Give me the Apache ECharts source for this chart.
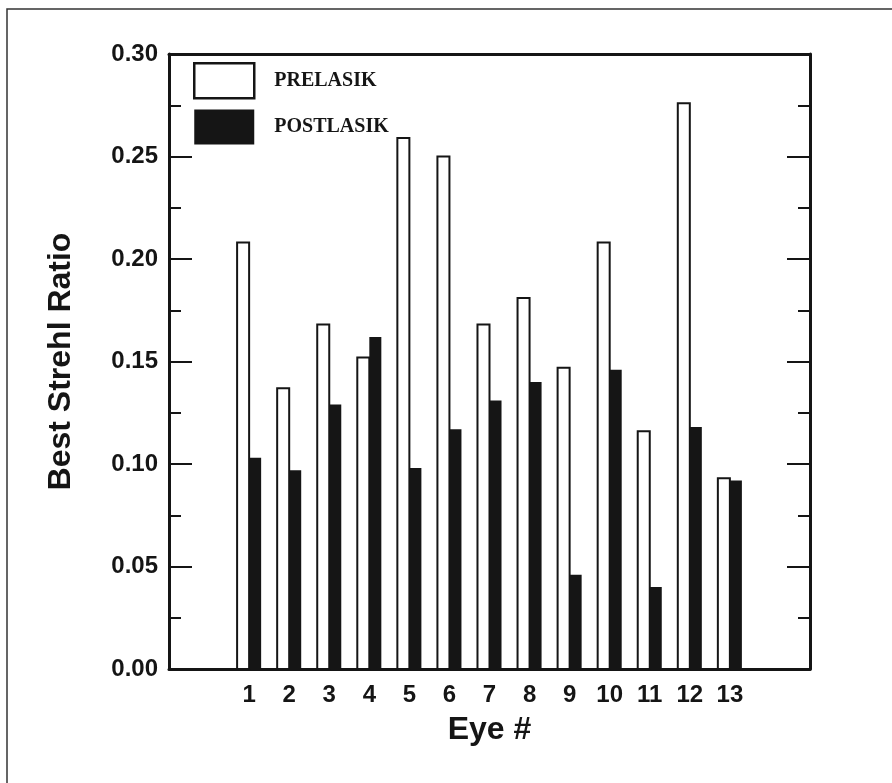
<!DOCTYPE html>
<html>
<head>
<meta charset="utf-8">
<script src="https://cdn.jsdelivr.net/npm/echarts@6/dist/echarts.min.js"></script>
<style>
html,body{margin:0;padding:0;background:#fff;}
#chart{width:892px;height:783px;}
</style>
</head>
<body>
<div id="chart"></div>
<script>
var eyes = [1, 2, 3, 4, 5, 6, 7, 8, 9, 10, 11, 12, 13];
var preLasik = [0.208, 0.137, 0.168, 0.152, 0.259, 0.250, 0.168, 0.181, 0.147, 0.208, 0.116, 0.276, 0.093];
var postLasik = [0.103, 0.097, 0.129, 0.162, 0.098, 0.117, 0.131, 0.140, 0.046, 0.146, 0.040, 0.118, 0.092];
var yTicks = [0.00, 0.05, 0.10, 0.15, 0.20, 0.25, 0.30];
var seriesNames = ['PRELASIK', 'POSTLASIK'];

var BAR_W = 0.3;
var INK = '#151515';

function makeRender(side) {
  return function (params, api) {
    var x = api.value(0), y = api.value(1);
    var xa = side < 0 ? x - BAR_W : x;
    var xb = side < 0 ? x : x + BAR_W;
    var p0 = api.coord([xa, y]);
    var p1 = api.coord([xb, 0]);
    return {
      type: 'rect',
      shape: { x: p0[0], y: p0[1], width: p1[0] - p0[0], height: p1[1] - p0[1] },
      style: api.style()
    };
  };
}

var chart = echarts.init(document.getElementById('chart'), null, { renderer: 'canvas' });

var axisLineStyle = { color: INK, width: 3 };

var option = {
  backgroundColor: '#fff',
  animation: false,
  graphic: [{
    type: 'polyline',
    shape: { points: [[7, 783], [7, 9], [892, 9]] },
    style: { stroke: '#333', lineWidth: 1.5, fill: null }
  }],
  legend: {
    left: 193, top: 62, orient: 'vertical', padding: 0,
    itemWidth: 60, itemHeight: 35, itemGap: 10,
    textStyle: { fontFamily: 'Liberation Serif', fontWeight: 'bold', fontSize: 20, color: INK, padding: [0, 0, 0, 15] },
    data: [
      { name: seriesNames[0], icon: 'rect', itemStyle: { color: '#fff', borderColor: INK, borderWidth: 2.5 } },
      { name: seriesNames[1], icon: 'rect', itemStyle: { color: INK, borderWidth: 0 } }
    ]
  },
  grid: { left: 169, right: 82, top: 54, bottom: 114 },
  xAxis: [{
    type: 'value', min: -1, max: 15, interval: 1,
    name: 'Eye #', nameLocation: 'middle', nameGap: 45,
    nameTextStyle: { fontFamily: 'Liberation Sans', fontWeight: 'bold', fontSize: 32, color: INK },
    axisLine: { onZero: false, lineStyle: axisLineStyle },
    axisTick: { show: false },
    splitLine: { show: false },
    axisLabel: {
      margin: 14, fontFamily: 'Liberation Sans', fontWeight: 'bold', fontSize: 24, color: INK,
      formatter: function (v) { return eyes.indexOf(v) >= 0 ? String(v) : ''; }
    }
  }, {
    type: 'value', position: 'top', min: -1, max: 15,
    axisLine: { onZero: false, lineStyle: axisLineStyle },
    axisTick: { show: false }, axisLabel: { show: false }, splitLine: { show: false }
  }],
  yAxis: [{
    type: 'value', min: 0, max: 0.3, interval: 0.05,
    name: 'Best Strehl Ratio', nameLocation: 'middle', nameGap: 92, nameRotate: 90,
    nameTextStyle: { fontFamily: 'Liberation Sans', fontWeight: 'bold', fontSize: 32, color: INK },
    axisLine: { show: true, onZero: false, lineStyle: axisLineStyle },
    axisTick: { show: true, inside: true, length: 23, lineStyle: { color: INK, width: 2 } },
    minorTick: { show: true, splitNumber: 2, length: 12, lineStyle: { color: INK, width: 2 } },
    splitLine: { show: false },
    axisLabel: {
      margin: 11, fontFamily: 'Liberation Sans', fontWeight: 'bold', fontSize: 24, color: INK,
      formatter: function (v) { var i = Math.round(v / 0.05); return yTicks[i] !== undefined ? yTicks[i].toFixed(2) : ''; }
    }
  }, {
    type: 'value', position: 'right', min: 0, max: 0.3, interval: 0.05,
    axisLine: { show: true, onZero: false, lineStyle: axisLineStyle },
    axisTick: { show: true, inside: true, length: 23, lineStyle: { color: INK, width: 2 } },
    minorTick: { show: true, splitNumber: 2, length: 12, lineStyle: { color: INK, width: 2 } },
    splitLine: { show: false },
    axisLabel: { show: false }
  }],
  series: [{
    name: seriesNames[0], type: 'custom',
    renderItem: makeRender(-1),
    itemStyle: { color: '#fff', borderColor: INK, borderWidth: 2 },
    encode: { x: 0, y: 1 },
    data: eyes.map(function (e, i) { return [e, preLasik[i]]; }),
    z: 3
  }, {
    name: seriesNames[1], type: 'custom',
    renderItem: makeRender(1),
    itemStyle: { color: INK },
    encode: { x: 0, y: 1 },
    data: eyes.map(function (e, i) { return [e, postLasik[i]]; }),
    z: 3
  }]
};
chart.setOption(option);
</script>
</body>
</html>
